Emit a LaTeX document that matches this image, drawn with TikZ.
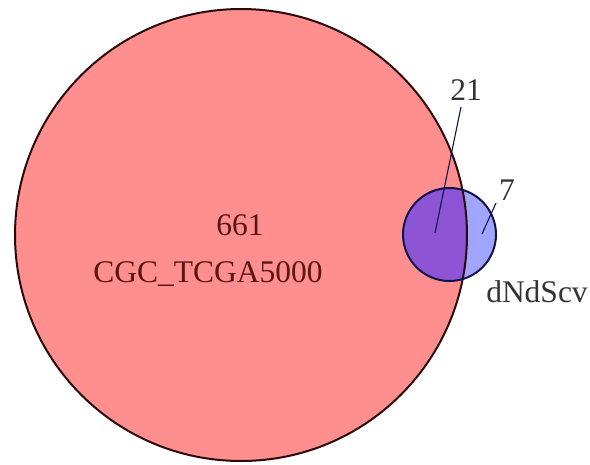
\documentclass[tikz,border=0pt]{standalone}
\usepackage{fontspec}
\setmainfont{Liberation Serif}
\definecolor{pinkfill}{HTML}{FF8F8F}
\definecolor{bluefill}{HTML}{A0A6FF}
\definecolor{purplefill}{HTML}{8D55D6}
\definecolor{redline}{HTML}{2A0A0A}
\definecolor{navyline}{HTML}{12124A}
\definecolor{redtext}{HTML}{5A1515}
\definecolor{graytext}{HTML}{333333}
\tikzset{
  setcircle/.style={circle, inner sep=0pt, line width=1.8pt},
  lbl/.style={inner sep=0pt, font=\fontsize{31.5}{33}\selectfont},
  leader/.style={line width=1.1pt, color=#1},
}
\begin{document}
\begin{tikzpicture}[x=1pt,y=-1pt]
\useasboundingbox (0,0) rectangle (590,464);
% fills
\node[setcircle, fill=pinkfill, minimum size=452pt] (A) at (241,235) {};
\node[setcircle, fill=bluefill, minimum size=93pt] (B) at (449.5,234.5) {};
\begin{scope}
  \clip (241,235) circle (226pt);
  \fill[purplefill] (449.5,234.5) circle (46.5pt);
\end{scope}
% outlines
\draw[redline, line width=2pt] (A.center) circle (226pt);
\draw[navyline, line width=2pt] (B.center) circle (46.5pt);
% labels
\node[lbl, text=redtext] (n661) at (240,225) {661};
\node[lbl, text=redtext] (nameA) at (208,274) {CGC\_TCGA5000};
\node[lbl, text=graytext] (n21) at (466,90) {21};
\node[lbl, text=graytext] (n7) at (507,190) {7};
\node[lbl, text=graytext] (nameB) at (537,292) {dNdScv};
% leader lines
\coordinate (s21) at (461,107);
\coordinate (p21) at (435,233);
\coordinate (s7) at (496,203);
\coordinate (p7) at (482,234);
\draw[leader=navyline] (s21) -- (p21);
\draw[leader=navyline] (s7) -- (p7);
\end{tikzpicture}
\end{document}
